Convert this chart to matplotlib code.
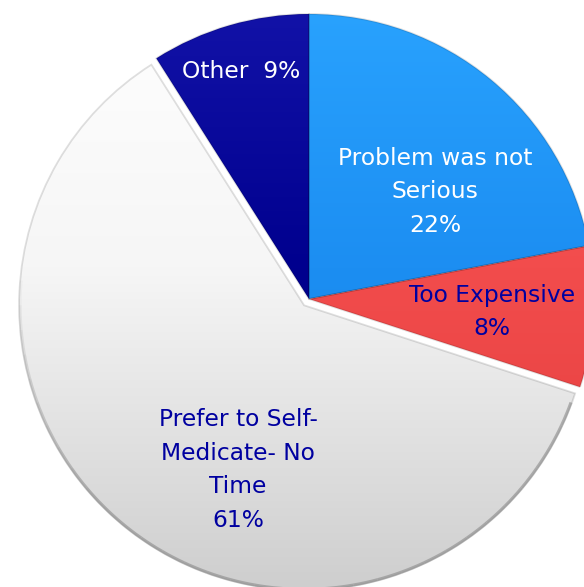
import numpy as np
import matplotlib
matplotlib.use("Agg")
import matplotlib.pyplot as plt
from matplotlib.colors import LinearSegmentedColormap
from matplotlib.patches import Arc

# reasons for not seeing a doctor (share of answers, %)
labels = ["Problem was not\nSerious\n22%", "Too Expensive\n8%",
          "Prefer to Self-\nMedicate- No\nTime\n61%", "Other  9%"]
shares = [22, 8, 61, 9]
explode = [0, 0, 8, 0]   # pie offsets are in data units (pixels here)

# shade stops (top -> bottom) of each slice
shades = [["#2aa4ff", "#1c8ef2", "#147ee0"],
          ["#ff6464", "#f24c4c", "#e03c3c"],
          ["#ffffff", "#f6f6f6", "#cbcbcb"],
          ["#1414aa", "#00008e", "#000080"]]
text_colors = ["white", "#0000a0", "#0000a0", "white"]

W, H = 584, 587
fig = plt.figure(figsize=(W / 100, H / 100), dpi=100)
ax = fig.add_axes([0, 0, 1, 1])

cx, cy, r = 309, H - 299, 285
wedges, _ = ax.pie(shares, startangle=90, counterclock=False, explode=explode,
                   center=(cx, cy), radius=r, frame=True,
                   wedgeprops=dict(linewidth=0))
ax.set_xlim(0, W)
ax.set_ylim(0, H)
ax.set_aspect("equal")
ax.axis("off")

grad = np.linspace(1, 0, 256).reshape(-1, 1)
for w, stops in zip(wedges, shades):
    w.set_facecolor("none")
    cmap = LinearSegmentedColormap.from_list("g", list(zip([0, 0.55, 1], stops[::-1])))
    im = ax.imshow(grad, cmap=cmap, aspect="auto", origin="upper",
                   extent=(cx - r - 30, cx + r + 30, cy - r - 30, cy + r + 30),
                   zorder=1)
    im.set_clip_path(w)
    # soft rim for the bevel look
    w.set_edgecolor((0, 0, 0, 0.12))
    w.set_linewidth(1.3)
    w.set_zorder(2)

# darker rim along the lower edge of the big slice, fading in at the left
big = wedges[2]
steps = np.linspace(170, 340, 35)
for a0, a1 in zip(steps[:-1], steps[1:]):
    k = min(1.0, (a0 - 170) / 50)
    rim = Arc(big.center, 2 * r - 2, 2 * r - 2, theta1=a0, theta2=a1,
              color="#8a8a8a", lw=2.2, alpha=0.6 * k, zorder=3)
    rim.set_capstyle("butt")
    ax.add_patch(rim)

# label centres (x, y from top)
label_pos = [(435, 192), (492, 312), (238, 470), (241, 72)]
for txt, (x, y), col in zip(labels, label_pos, text_colors):
    ax.text(x, H - y, txt, ha="center", va="center", color=col,
            fontsize=16.8, linespacing=1.58, family="DejaVu Sans", zorder=5)

fig.savefig("out.png", dpi=100)
